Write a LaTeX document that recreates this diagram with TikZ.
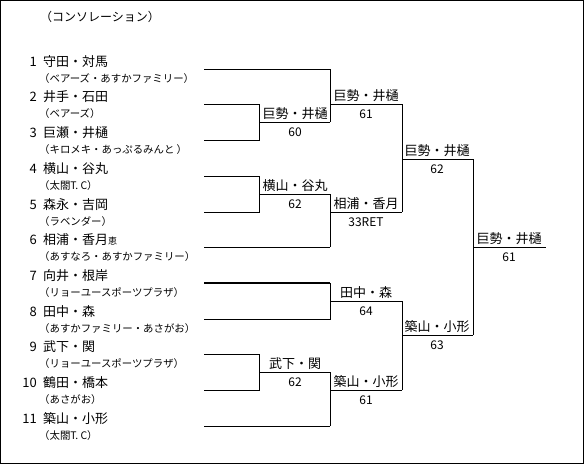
\documentclass[tikz,border=0pt]{standalone}
\usepackage{fontspec}
\setmainfont{Noto Sans CJK JP}
\begin{document}
\begin{tikzpicture}[x=1pt,y=-1pt,
 ln/.style={line width=0.9pt},
 thk/.style={line width=1.8pt},
 txt/.style={inner sep=0pt, text height=0.88em, text depth=0.12em},
 nm/.style={txt, font=\fontsize{13}{13}\selectfont, anchor=west},
 num/.style={txt, font=\fontsize{13}{13}\selectfont, anchor=east},
 sub/.style={txt, font=\fontsize{10.4}{10.4}\selectfont, anchor=west},
 win/.style={txt, font=\fontsize{13}{13}\selectfont, anchor=center},
 sc/.style={txt, font=\fontsize{12}{12}\selectfont, anchor=center}]
\useasboundingbox (0,0) rectangle (585,466);
\draw[ln] (0.5,0.5) rectangle (583.5,463.5);

\node[txt, font=\fontsize{12}{12}\selectfont, anchor=west] (title) at (40,18) {（コンソレーション）};

% entries
\node[num] (n1) at (37,63) {1};  \node[nm] (p1) at (43,63) {守田・対馬};  \node[sub] (s1) at (39,79) {（ベアーズ・あすかファミリー）};
\node[num] (n2) at (37,98) {2};  \node[nm] (p2) at (43,98) {井手・石田};  \node[sub] (s2) at (39,114) {（ベアーズ）};
\node[num] (n3) at (37,134) {3}; \node[nm] (p3) at (43,134) {巨瀬・井樋}; \node[sub] (s3) at (39,150) {（キロメキ・あっぷるみんと ）};
\node[num] (n4) at (37,170) {4}; \node[nm] (p4) at (43,170) {横山・谷丸}; \node[sub] (s4) at (39,186) {（太閤T. C）};
\node[num] (n5) at (37,206) {5}; \node[nm] (p5) at (43,206) {森永・吉岡}; \node[sub] (s5) at (39,222) {（ラベンダー）};
\node[num] (n6) at (37,241) {6}; \node[nm] (p6) at (43,241) {相浦・香月{\fontsize{9}{9}\selectfont 恵}}; \node[sub] (s6) at (39,257) {（あすなろ・あすかファミリー）};
\node[num] (n7) at (37,277) {7}; \node[nm] (p7) at (43,277) {向井・根岸}; \node[sub] (s7) at (39,293) {（リョーユースポーツプラザ）};
\node[num] (n8) at (37,313) {8}; \node[nm] (p8) at (43,313) {田中・森}; \node[sub] (s8) at (39,329) {（あすかファミリー・あさがお）};
\node[num] (n9) at (37,348) {9}; \node[nm] (p9) at (43,348) {武下・関}; \node[sub] (s9) at (39,364) {（リョーユースポーツプラザ）};
\node[num] (n10) at (37,384) {10}; \node[nm] (p10) at (43,384) {鶴田・橋本}; \node[sub] (s10) at (39,400) {（あさがお）};
\node[num] (n11) at (37,420) {11}; \node[nm] (p11) at (43,420) {築山・小形}; \node[sub] (s11) at (39,436) {（太閤T. C）};

% coordinates of entry lines
\foreach \i/\y in {1/69,2/104,3/140,4/176,5/212,6/247,7/283,8/319,9/354,10/390,11/426}
  \coordinate (e\i) at (204,\y);

% round 1
\coordinate (a2) at (259,104); \coordinate (a3) at (259,140); \coordinate (ao) at (330,122);
\coordinate (b4) at (259,176); \coordinate (b5) at (259,212); \coordinate (bo) at (330,194);
\coordinate (c9) at (259,354); \coordinate (c10) at (259,390); \coordinate (co) at (330,372);
% round 2
\coordinate (d1) at (330,69); \coordinate (do) at (402,104);
\coordinate (f6) at (330,247); \coordinate (fo) at (402,212);
\coordinate (g7) at (330,283); \coordinate (g8) at (330,319); \coordinate (go) at (402,301);
\coordinate (h11) at (330,426); \coordinate (ho) at (402,390);
% round 3
\coordinate (io) at (473,159);
\coordinate (jo) at (473,335);
% final
\coordinate (ko) at (546,247);

\draw[ln] (e1) -- (d1);
\draw[ln] (e2) -- (a2) -- (a3) -- (e3);
\draw[ln] (a2 |- ao) -- (ao);
\draw[ln] (e4) -- (b4) -- (b5) -- (e5);
\draw[ln] (b4 |- bo) -- (bo);
\draw[ln] (e6) -- (f6);
\draw[thk] (e7) -- (g7);
\draw[ln] (g7) -- (g8) -- (e8);
\draw[ln] (g7 |- go) -- (go);
\draw[ln] (e9) -- (c9) -- (c10) -- (e10);
\draw[ln] (c9 |- co) -- (co);
\draw[ln] (e11) -- (h11);

\draw[ln] (d1) -- (ao);
\draw[ln] (d1 |- do) -- (do);
\draw[ln] (bo) -- (f6);
\draw[ln] (bo |- fo) -- (fo);
\draw[ln] (co) -- (h11);
\draw[ln] (co |- ho) -- (ho);

\draw[ln] (do) -- (fo);
\draw[ln] (do |- io) -- (io);
\draw[ln] (go) -- (ho);
\draw[ln] (go |- jo) -- (jo);

\draw[ln] (io) -- (jo);
\draw[ln] (io |- ko) -- (ko);

% labels
\node[win] (wa) at (295,115) {巨勢・井樋}; \node[sc] (sa) at (295,133) {60};
\node[win] (wb) at (295,187) {横山・谷丸}; \node[sc] (sb) at (295,205) {62};
\node[win] (wc) at (295,365) {武下・関};   \node[sc] (sc1) at (295,383) {62};
\node[win] (wd) at (366,97)  {巨勢・井樋}; \node[sc] (sd) at (366,115) {61};
\node[win] (wf) at (366,205) {相浦・香月}; \node[sc] (sf) at (366,223) {33RET};
\node[win] (wg) at (366,294) {田中・森};   \node[sc] (sg) at (366,312) {64};
\node[win] (wh) at (366,383) {築山・小形}; \node[sc] (sh) at (366,401) {61};
\node[win] (wi) at (437,152) {巨勢・井樋}; \node[sc] (si) at (437,170) {62};
\node[win] (wj) at (437,328) {築山・小形}; \node[sc] (sj) at (437,346) {63};
\node[win] (wk) at (509,240) {巨勢・井樋}; \node[sc] (sk) at (509,258) {61};
\end{tikzpicture}
\end{document}
